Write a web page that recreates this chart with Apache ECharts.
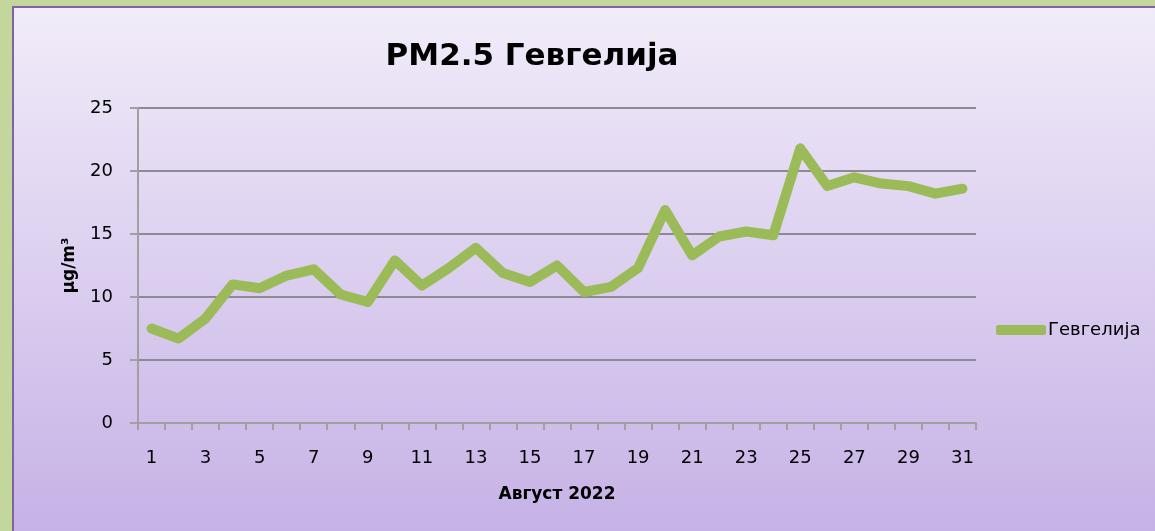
<!DOCTYPE html>
<html>
<head>
<meta charset="utf-8">
<title>PM2.5 Гевгелија</title>
<script src="https://cdn.jsdelivr.net/npm/echarts@6/dist/echarts.min.js"></script>
<style>
  html, body { margin: 0; padding: 0; width: 1155px; height: 531px; overflow: hidden; }
  #frame { position: absolute; left: 0; top: 0; width: 1155px; height: 531px; background: #C3D69B; }
  #chart {
    position: absolute; left: 12px; top: 6px; width: 1141px; height: 523px;
    border-left: 2px solid #8064A2; border-top: 2px solid #8064A2;
  }
</style>
</head>
<body>
<div id="frame"><div id="chart"></div></div>
<script>
// Daily PM2.5 averages, Gevgelija, August 2022
const days = ['1','2','3','4','5','6','7','8','9','10','11','12','13','14','15','16',
              '17','18','19','20','21','22','23','24','25','26','27','28','29','30','31'];
const pm25 = [7.5, 6.7, 8.3, 11.0, 10.7, 11.7, 12.2, 10.2, 9.6, 12.9, 10.9, 12.3, 13.9, 11.9, 11.2, 12.5,
              10.4, 10.8, 12.3, 16.9, 13.3, 14.8, 15.2, 14.9, 21.8, 18.8, 19.5, 19.0, 18.8, 18.2, 18.6];
const yTicks = [0, 5, 10, 15, 20, 25];

const FONT = '"DejaVu Sans", sans-serif';

const chart = echarts.init(document.getElementById('chart'), null, { renderer: 'canvas' });
chart.setOption({
  animation: false,
  backgroundColor: {
    type: 'linear', x: 0, y: 0, x2: 0, y2: 1,
    colorStops: [
      { offset: 0, color: '#F1ECF9' },
      { offset: 1, color: '#C6B2E6' }
    ]
  },
  title: {
    text: 'PM2.5 Гевгелија',
    left: 513,
    top: 28,
    textAlign: 'center',
    textStyle: { fontFamily: FONT, fontSize: 31, fontWeight: 'bold', color: '#000' }
  },
  legend: {
    left: 977,
    top: 308,
    icon: 'roundRect',
    itemWidth: 50,
    itemHeight: 10,
    itemGap: 2,
    textStyle: { fontFamily: FONT, fontSize: 18, color: '#000', padding: [0, 0, 0, -3] },
    data: ['Гевгелија']
  },
  grid: { left: 124, top: 100, right: 179, bottom: 108, containLabel: false },
  xAxis: {
    type: 'category',
    data: days,
    boundaryGap: true,
    name: 'Август 2022',
    nameLocation: 'middle',
    nameGap: 63,
    nameTextStyle: { fontFamily: FONT, fontSize: 17, fontWeight: 'bold', color: '#000' },
    axisLine: { lineStyle: { color: '#A0A0A0', width: 2 } },
    axisTick: { show: true, alignWithLabel: false, interval: 0, length: 7, lineStyle: { color: '#A0A0A0', width: 2 } },
    axisLabel: { interval: 1, margin: 26, fontFamily: FONT, fontSize: 18, color: '#000' }
  },
  yAxis: {
    type: 'value',
    min: yTicks[0],
    max: yTicks[yTicks.length - 1],
    interval: 5,
    name: 'µg/m³',
    nameLocation: 'middle',
    nameGap: 60,
    nameTextStyle: { fontFamily: FONT, fontSize: 17, fontWeight: 'bold', color: '#000' },
    axisLine: { show: true, lineStyle: { color: '#A0A0A0', width: 2 } },
    axisTick: { show: true, length: 8, lineStyle: { color: '#A0A0A0', width: 2 } },
    axisLabel: { margin: 25, fontFamily: FONT, fontSize: 18, color: '#000' },
    splitLine: { lineStyle: { color: '#8E8A93', width: 2 } }
  },
  series: [{
    name: 'Гевгелија',
    type: 'line',
    data: pm25,
    symbol: 'none',
    color: '#9BBB59',
    lineStyle: { color: '#9BBB59', width: 10, cap: 'round', join: 'round' }
  }]
});
</script>
</body>
</html>
